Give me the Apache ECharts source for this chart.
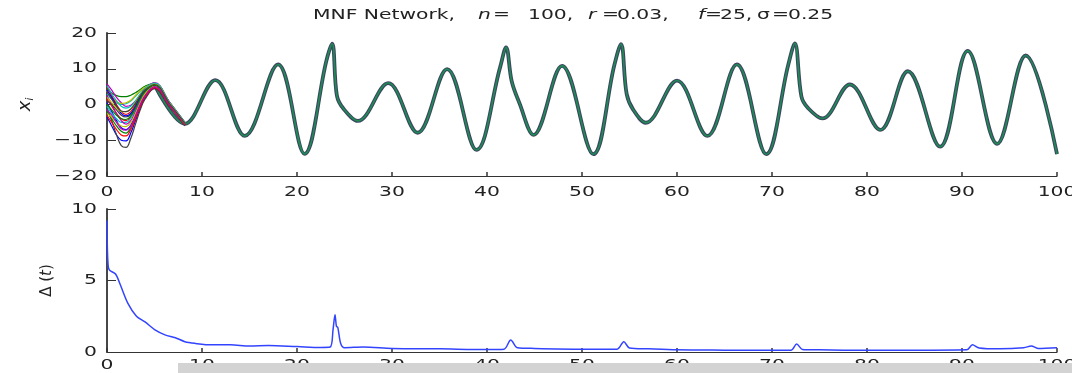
<!DOCTYPE html>
<html>
<head>
<meta charset="utf-8">
<script src="https://cdn.jsdelivr.net/npm/echarts@6/dist/echarts.min.js"></script>
<style>
  html, body { margin: 0; padding: 0; background: #fff; }
  #chart { width: 1072px; height: 373px; }
</style>
</head>
<body>
<div id="chart"></div>
<script>
// Synchronised trajectory of the network (all nodes overlap after the transient):
// turning points, plus the steep flanks and shoulders of the spikes
const syncT = [5.0, 8.2, 11.4, 14.5, 18.0, 20.8, 23.1, 23.7, 24.2, 24.9, 26.4, 29.6, 32.7, 35.8, 38.9, 41.4,
  42.0, 42.6, 43.4, 44.9, 47.9, 51.2, 53.4, 54.1, 54.7, 55.4, 56.7, 60.0, 63.2, 66.3, 69.4, 71.7, 72.4,
  73.1, 73.8, 75.3, 78.2, 81.4, 84.3, 87.7, 90.6, 93.7, 96.7, 100.0];
const syncX = [5.5, -5.4, 6.8, -8.8, 11.2, -13.8, 12.3, 17.0, 2.5, -1.2, -4.6, 6.0, -7.9, 9.9, -12.7, 10.6,
  16.0, 6.5, 0.5, -8.5, 10.8, -13.9, 11.0, 16.9, 3.0, -1.5, -5.1, 6.7, -8.8, 11.2, -13.9, 11.0, 17.1,
  2.2, -1.0, -3.9, 5.6, -7.1, 9.3, -11.8, 15.0, -11.0, 13.7, -13.9];

// Individual node trajectories during the transient
const transientT = [0, 0.5, 1, 1.5, 2, 2.5, 3, 3.5, 4, 5, 6.6, 8.2];
const node01 = [-3.5, -6.0, -8.5, -10.0, -10.2, -8.0, -4.5, -1.0, 1.8, 4.6, -0.5, -5.8];
const node02 = [4.5, 3.2, 2.5, 2.2, 2.2, 2.6, 3.3, 4.2, 5.1, 6.0, 0.6, -5.0];
const node03 = [1.5, -0.5, -2.5, -4.0, -4.5, -3.5, -1.5, 1.0, 3.2, 5.4, 0.0, -5.4];
const node04 = [3.0, 1.5, 0.5, 0.0, 0.2, 1.0, 2.3, 3.6, 4.6, 5.7, 0.3, -5.2];
const node05 = [5.8, 4.0, 2.0, 0.5, -0.5, -0.2, 1.0, 2.8, 4.4, 6.1, 0.6, -5.0];
const node06 = [3.8, 2.0, 0.8, 0.3, 0.5, 1.2, 2.6, 3.8, 4.8, 5.8, 0.3, -5.2];
const node07 = [-1.0, -4.5, -8.5, -11.5, -12.0, -9.5, -5.5, -1.5, 1.5, 4.4, -0.6, -6.0];
const node08 = [0.5, -2.0, -4.5, -6.5, -7.0, -5.8, -3.0, 0.0, 2.7, 5.1, -0.2, -5.5];
const node09 = [-2.0, -4.0, -6.0, -7.5, -8.0, -6.5, -3.5, 0.0, 2.5, 5.0, -0.3, -5.6];
const node10 = [5.0, 2.5, 0.0, -2.0, -2.8, -2.0, 0.0, 2.2, 4.0, 5.6, 0.2, -5.3];
const node11 = [-0.5, -2.5, -4.0, -5.0, -5.0, -3.8, -1.5, 1.3, 3.4, 5.3, 0.0, -5.4];
const node12 = [2.5, 0.0, -2.5, -4.5, -5.5, -4.5, -2.0, 0.8, 3.2, 5.4, 0.0, -5.4];
const node13 = [-2.5, -3.5, -5.0, -6.0, -6.2, -5.0, -2.5, 0.5, 3.0, 5.2, -0.1, -5.5];
const node14 = [1.0, 0.0, -1.5, -3.0, -3.5, -2.8, -0.8, 1.8, 3.8, 5.5, 0.1, -5.4];
const node15 = [4.0, 2.0, -0.5, -2.5, -3.2, -2.5, -0.5, 2.0, 3.9, 5.6, 0.2, -5.3];
const node16 = [0.0, -1.5, -3.0, -4.0, -4.2, -3.2, -1.0, 1.6, 3.6, 5.4, 0.0, -5.4];
const node17 = [-3.0, -5.0, -7.0, -8.5, -8.8, -7.0, -4.0, -0.5, 2.1, 4.7, -0.4, -5.7];
const node18 = [5.2, 3.0, 1.0, -0.5, -1.0, -0.5, 1.0, 2.9, 4.5, 6.0, 0.5, -5.1];
const node19 = [-1.5, -3.0, -5.0, -6.8, -7.2, -6.0, -3.2, 0.0, 2.4, 5.0, -0.2, -5.5];
const node20 = [2.0, 0.5, -1.0, -2.0, -2.0, -1.2, 0.6, 2.6, 4.2, 5.7, 0.3, -5.3];
const node21 = [3.5, 1.5, -0.5, -1.8, -2.0, -1.3, 0.4, 2.5, 4.1, 5.6, 0.2, -5.3];
const nodes = [node01, node02, node03, node04, node05, node06, node07, node08, node09, node10, node11,
  node12, node13, node14, node15, node16, node17, node18, node19, node20, node21];

// Synchronisation error Delta(t)
const deltaT = [0, 0.05, 0.15, 0.3, 0.9, 1.4, 2.2, 3.1, 4.0, 5.05, 6.1, 7.2, 8.2, 9.3, 11, 13, 15, 17, 20,
  22.5, 23.5, 23.8, 24.0, 24.15, 24.3, 24.6, 25, 27, 30, 35, 40, 41.8, 42.5, 43.2, 45, 50, 53.7, 54.4, 55.0,
  57, 60, 65, 70, 72.0, 72.6, 73.2, 75, 80, 85, 90.5, 91.1, 91.8, 94, 96.5, 97.3, 98, 100];
const deltaV = [9.2, 7.0, 5.9, 5.7, 5.45, 4.7, 3.4, 2.5, 2.1, 1.55, 1.2, 1.0, 0.72, 0.6, 0.5, 0.5, 0.42, 0.45,
  0.38, 0.32, 0.35, 1.6, 2.6, 1.8, 1.7, 0.6, 0.3, 0.35, 0.25, 0.22, 0.17, 0.2, 0.84, 0.3, 0.25, 0.2, 0.2,
  0.72, 0.28, 0.22, 0.15, 0.13, 0.12, 0.12, 0.56, 0.18, 0.15, 0.12, 0.12, 0.15, 0.5, 0.28, 0.22, 0.3, 0.42,
  0.25, 0.3];

// Tick values and labels
const timeTicks = [0, 10, 20, 30, 40, 50, 60, 70, 80, 90, 100];
const stateTicks = [-20, -10, 0, 10, 20];
const deltaTicks = [0, 5, 10];

// Title pieces: [text, italic, left edge]
const titleParts = [
  ['MNF Network,', false, 313], ['n', true, 478], ['=', false, 493], ['100,', false, 528],
  ['r', true, 588], ['=', false, 602], ['0.03,', false, 617], ['f', true, 698], ['=', false, 705],
  ['25,', false, 720], ['\u03c3', false, 757], ['=', false, 772], ['0.25', false, 788]
];

// MATLAB-style line colour cycle
const lineColors = ['#0000ff', '#008000', '#ff0000', '#00bfbf', '#bf00bf', '#bfbf00', '#404040'];

const FONT = '"DejaVu Sans"';
const axisColor = '#333';
const textColor = '#222';
const TEXT_STRETCH = 1.45;

function pairs(ts, vs) { return ts.map((t, i) => [t, vs[i]]); }
function fmt(v) { return v < 0 ? '\u2212' + Math.abs(v) : String(v); }

function xAxisCfg(gridIndex) {
  return {
    type: 'value', gridIndex, min: timeTicks[0], max: timeTicks[timeTicks.length - 1],
    interval: timeTicks[1] - timeTicks[0],
    axisLine: { show: true, onZero: false, lineStyle: { color: axisColor, width: 1.2 } },
    axisTick: { show: true, inside: true, length: 4, lineStyle: { color: axisColor, width: 1.5 } },
    axisLabel: { show: false },
    splitLine: { show: false }
  };
}

function yAxisCfg(gridIndex, ticks, name, nameGap, rich) {
  return {
    type: 'value', gridIndex, min: ticks[0], max: ticks[ticks.length - 1], interval: ticks[1] - ticks[0],
    axisLine: { show: true, onZero: false, lineStyle: { color: axisColor, width: 1.8 } },
    axisTick: { show: true, inside: true, length: 9, lineStyle: { color: axisColor, width: 1 } },
    axisLabel: { show: false },
    splitLine: { show: false },
    name, nameLocation: 'middle', nameGap, nameRotate: 90,
    nameTextStyle: { color: textColor, fontFamily: 'DejaVu Sans', fontSize: 15, rich }
  };
}

const series = [];
// synchronised trajectory: dark underlay with the last (green) node on top
series.push({
  type: 'line', xAxisIndex: 0, yAxisIndex: 0, data: pairs(syncT, syncX), showSymbol: false,
  smooth: 0.37, lineStyle: { color: '#3d4660', width: 3.8 }, z: 2, silent: true
});
series.push({
  type: 'line', xAxisIndex: 0, yAxisIndex: 0, data: pairs(syncT, syncX), showSymbol: false,
  smooth: 0.37, lineStyle: { color: '#1e8c55', width: 1.6 }, z: 3, silent: true
});
nodes.forEach((vals, k) => {
  series.push({
    type: 'line', xAxisIndex: 0, yAxisIndex: 0, data: pairs(transientT, vals), showSymbol: false,
    smooth: 0.4, lineStyle: { color: lineColors[k % lineColors.length], width: 1.2 }, z: 4, silent: true
  });
});
series.push({
  type: 'line', xAxisIndex: 1, yAxisIndex: 1, data: pairs(deltaT, deltaV), showSymbol: false,
  smooth: 0.3, lineStyle: { color: '#3344ff', width: 1.5 }, silent: true
});

const option = {
  animation: false,
  backgroundColor: '#ffffff',
  grid: [
    { left: 107, right: 15, top: 33, height: 143 },
    { left: 107, right: 15, top: 209, height: 143 }
  ],
  xAxis: [xAxisCfg(0), xAxisCfg(1)],
  yAxis: [
    yAxisCfg(0, stateTicks, '{x|x}{s|i}', 72, {
      x: { fontFamily: 'DejaVu Sans', fontSize: 18, fontStyle: 'italic', color: textColor },
      s: { fontFamily: 'DejaVu Sans', fontSize: 10, fontStyle: 'italic', color: textColor, padding: [10, 0, 0, 0] }
    }),
    yAxisCfg(1, deltaTicks, '{u|\u0394 (}{i|t}{u|)}', 52, {
      u: { fontFamily: 'DejaVu Sans', fontSize: 15, color: textColor },
      i: { fontFamily: 'DejaVu Sans', fontSize: 15, fontStyle: 'italic', color: textColor }
    })
  ],
  series
};

const chart = echarts.init(document.getElementById('chart'), null, { renderer: 'canvas' });
chart.setOption(option);

// Text drawn with a horizontal stretch
function stretchedText(x, y, text, align, vAlign, italic, size) {
  return {
    type: 'text', x, y, scaleX: TEXT_STRETCH, z: 50, silent: true,
    style: {
      text, fill: textColor, align, verticalAlign: vAlign,
      font: (italic ? 'italic ' : '') + size + 'px ' + FONT
    }
  };
}

const graphics = [];
// title
titleParts.forEach(p => graphics.push(stretchedText(p[2], 8, p[0], 'left', 'top', p[1], 14)));
// tick labels, positioned through the axes
[0, 1].forEach(g => {
  const yTicks = g === 0 ? stateTicks : deltaTicks;
  const gap = g === 0 ? 9 : 6;
  timeTicks.forEach(v => {
    const p = chart.convertToPixel({ xAxisIndex: g, yAxisIndex: g }, [v, yTicks[0]]);
    graphics.push(stretchedText(p[0], p[1] + gap, fmt(v), 'center', 'top', false, 14));
  });
  yTicks.forEach(v => {
    const p = chart.convertToPixel({ xAxisIndex: g, yAxisIndex: g }, [timeTicks[0], v]);
    graphics.push(stretchedText(p[0] - 10, p[1], fmt(v), 'right', 'middle', false, 14));
  });
});
// footer strip along the bottom edge
graphics.push({ type: 'rect', left: 178, top: 363, shape: { width: 894, height: 10 }, style: { fill: '#d3d3d3' }, z: 100 });

chart.setOption({ graphic: graphics });
</script>
</body>
</html>
